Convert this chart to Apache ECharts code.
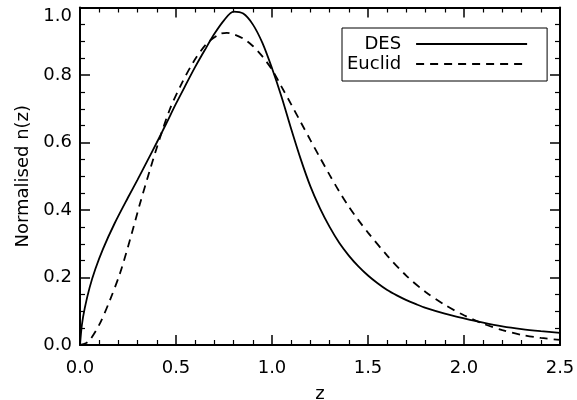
<!DOCTYPE html>
<html><head><meta charset="utf-8">
<script src="https://cdn.jsdelivr.net/npm/echarts@6/dist/echarts.min.js"></script>
<style>html,body{margin:0;padding:0;background:#fff}#c{width:577px;height:400px}</style>
</head><body><div id="c"></div>
<script>
var seriesNames = ['DES', 'Euclid'];
var zDES = [0, 0.01, 0.025, 0.05, 0.08, 0.12, 0.18, 0.25, 0.3, 0.35, 0.4, 0.45, 0.5, 0.55, 0.6, 0.65, 0.7, 0.75, 0.8, 0.85, 0.9, 0.95, 1.0, 1.05, 1.1, 1.15, 1.2, 1.25, 1.3, 1.35, 1.4, 1.45, 1.5, 1.55, 1.6, 1.65, 1.7, 1.75, 1.8, 1.9, 2.0, 2.1, 2.2, 2.3, 2.4, 2.5];
var nDES = [0, 0.06, 0.11, 0.17, 0.225, 0.285, 0.36, 0.437, 0.49, 0.545, 0.60, 0.657, 0.715, 0.77, 0.824, 0.874, 0.922, 0.962, 0.988, 0.982, 0.95, 0.895, 0.82, 0.735, 0.64, 0.55, 0.47, 0.405, 0.35, 0.303, 0.265, 0.233, 0.206, 0.183, 0.163, 0.147, 0.133, 0.121, 0.11, 0.093, 0.079, 0.066, 0.055, 0.047, 0.041, 0.036];
var zEuclid = [0, 0.03, 0.052, 0.104, 0.156, 0.208, 0.26, 0.3125, 0.365, 0.417, 0.469, 0.521, 0.59, 0.66, 0.729, 0.765, 0.799, 0.85, 0.9, 0.95, 1.0, 1.05, 1.1, 1.15, 1.2, 1.25, 1.3, 1.35, 1.4, 1.45, 1.5, 1.6, 1.7, 1.8, 1.9, 2.0, 2.1, 2.2, 2.3, 2.4, 2.5];
var nEuclid = [0, 0.005, 0.015, 0.064, 0.133, 0.212, 0.311, 0.419, 0.52, 0.615, 0.70, 0.765, 0.838, 0.893, 0.922, 0.925, 0.921, 0.908, 0.886, 0.855, 0.816, 0.765, 0.713, 0.66, 0.607, 0.555, 0.504, 0.455, 0.41, 0.37, 0.333, 0.265, 0.205, 0.157, 0.119, 0.088, 0.063, 0.044, 0.030, 0.021, 0.015];
var xTicks = [0, 0.5, 1.0, 1.5, 2.0, 2.5];
var yTicks = [0, 0.2, 0.4, 0.6, 0.8, 1.0];

function pairs(xs, ys){ return xs.map(function(x,i){ return [x, ys[i]]; }); }
var FONT = 'DejaVu Sans';
var FS = 18;
var axisCommon = function(show){
  return {
    axisLine: {show: true, onZero: false, lineStyle: {color: '#000', width: 2}},
    axisTick: {show: true, inside: true, length: 10, lineStyle: {color: '#000', width: 1.5}},
    minorTick: {show: true, splitNumber: 5, length: 5, lineStyle: {color: '#000', width: 1.2}},
    splitLine: {show: false},
    axisLabel: {show: show, color: '#000', fontSize: FS, fontFamily: FONT,
      formatter: function(v){ return v.toFixed(1); }}
  };
};
var xB = Object.assign(axisCommon(true), {type: 'value', position: 'bottom', min: xTicks[0], max: xTicks[xTicks.length-1], interval: 0.5,
  name: 'z', nameLocation: 'middle', nameGap: 40, nameTextStyle: {color: '#000', fontSize: FS, fontFamily: FONT}});
xB.axisLabel.margin = 14;
var xT = Object.assign(axisCommon(false), {type: 'value', position: 'top', min: xTicks[0], max: xTicks[xTicks.length-1], interval: 0.5});
var yL = Object.assign(axisCommon(true), {type: 'value', position: 'left', min: yTicks[0], max: yTicks[yTicks.length-1], interval: 0.2,
  name: 'Normalised n(z)', nameLocation: 'middle', nameGap: 48, nameTextStyle: {color: '#000', fontSize: FS, fontFamily: FONT}});
yL.minorTick.splitNumber = 4; yL.axisLabel.margin = 8;
yL.axisLabel.verticalAlignMaxLabel = 'top';
var yR = Object.assign(axisCommon(false), {type: 'value', position: 'right', min: yTicks[0], max: yTicks[yTicks.length-1], interval: 0.2});
yR.minorTick.splitNumber = 4;

var chart = echarts.init(document.getElementById('c'), null, {renderer: 'canvas'});
chart.setOption({
  animation: false,
  backgroundColor: '#fff',
  grid: {left: 80, right: 17, top: 7.5, bottom: 55, outerBoundsMode: 'none', containLabel: false},
  xAxis: [xB, xT],
  yAxis: [yL, yR],
  legend: {
    orient: 'vertical', left: 342, top: 28, align: 'right',
    itemWidth: 111, itemHeight: 10, itemGap: 2,
    padding: [7, 19, 8, 5],
    borderColor: '#000', borderWidth: 1,
    itemStyle: {opacity: 0},
    textStyle: {color: '#000', fontSize: FS, fontFamily: FONT, width: 55, align: 'right', padding: [0, 10, 0, 0]},
    data: seriesNames
  },
  series: [
    {name: seriesNames[0], type: 'line', xAxisIndex: 0, yAxisIndex: 0, data: pairs(zDES, nDES), smooth: 0.3, symbol: 'none',
      lineStyle: {color: '#000', width: 1.8, type: 'solid'}, itemStyle: {color: '#000'}},
    {name: seriesNames[1], type: 'line', xAxisIndex: 0, yAxisIndex: 0, data: pairs(zEuclid, nEuclid), smooth: 0.3, symbol: 'none',
      lineStyle: {color: '#000', width: 1.8, type: [8, 6]}, itemStyle: {color: '#000'}}
  ]
});
</script></body></html>
